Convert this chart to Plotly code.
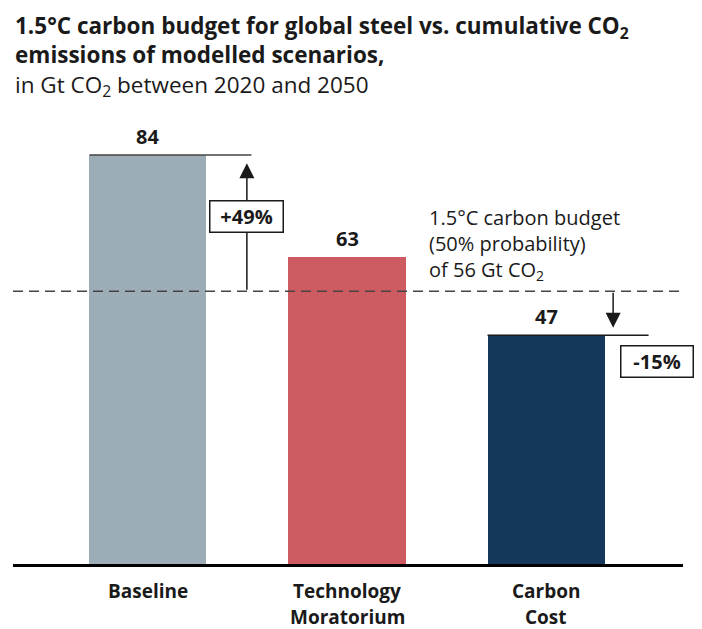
import plotly.graph_objects as go

# data
scenarios = ["Baseline", "Technology<br>Moratorium", "Carbon<br>Cost"]
emissions = [84, 63, 47]
bar_colors = ["#9DADB8", "#CD5B61", "#15375C"]
budget = 56
budget_lines = ["1.5°C carbon budget", "(50% probability)", "of 56 Gt CO<sub>2</sub>"]
change_labels = ["+49%", "-15%"]
title_lines = [
    "<b>1.5°C carbon budget for global steel vs. cumulative CO<sub>2</sub></b>",
    "<b>emissions of modelled scenarios,</b>",
    "in Gt CO<sub>2</sub> between 2020 and 2050",
]

FONT = "Open Sans"
INK = "#1a1a1a"

# page body adds 8px around the plot div, so work in reference pixels and shift back
OFF = 8
W, H = 702 - OFF, 629 - OFF
L, R, T, B = 13 - OFF, 19, 100 - OFF, 65
PW, PH = W - L - R, H - T - B


def px_x(px):
    return (px - OFF - L) / PW


def px_y(py):
    return (H - B - (py - OFF)) / PH


x_pos = list(range(len(scenarios)))
half_w = 0.294

fig = go.Figure()
fig.add_trace(go.Bar(
    x=x_pos,
    y=emissions,
    width=half_w * 2,
    marker=dict(color=bar_colors, line=dict(width=0)),
    hoverinfo="skip",
))

# value labels above the bars
for x, v in zip(x_pos, emissions):
    fig.add_annotation(x=x, y=v, text=f"<b>{v}</b>", showarrow=False, yanchor="middle",
                       yshift=19, font=dict(size=20, color=INK, family=FONT))

# budget line
fig.add_shape(type="line", xref="paper", yref="y", x0=0, x1=px_x(680), y0=budget, y1=budget,
              line=dict(color="#444444", width=1.5, dash="10px,6px"))

# reference lines at the top of baseline and carbon cost bars
fig.add_shape(type="line", x0=x_pos[0] - half_w, x1=0.52, y0=emissions[0], y1=emissions[0],
              line=dict(color="#444444", width=1.5))
fig.add_shape(type="line", x0=x_pos[2] - half_w, x1=2.515, y0=emissions[2], y1=emissions[2],
              line=dict(color=INK, width=1.5))

# arrows from budget to the bar tops
fig.add_annotation(x=0.497, y=emissions[0] - 1.7, ax=0.497, ay=budget, axref="x", ayref="y",
                   showarrow=True, arrowhead=2, arrowsize=2, arrowwidth=1.5, arrowcolor=INK, text="")
fig.add_annotation(x=2.337, y=emissions[2] + 1.5, ax=2.337, ay=budget, axref="x", ayref="y",
                   showarrow=True, arrowhead=2, arrowsize=2, arrowwidth=1.5, arrowcolor=INK, text="")

# change boxes
fig.add_annotation(x=0.497, y=71.3, text=f"<b>{change_labels[0]}</b>", showarrow=False,
                   width=70, height=28, bgcolor="white", bordercolor=INK, borderwidth=1.5, borderpad=1,
                   font=dict(size=20, color=INK, family=FONT))
fig.add_annotation(x=2.555, y=41.5, text=f"<b>{change_labels[1]}</b>", showarrow=False,
                   width=69, height=28, bgcolor="white", bordercolor=INK, borderwidth=1.5, borderpad=1,
                   font=dict(size=20, color=INK, family=FONT))

# budget note
for i, line in enumerate(budget_lines):
    fig.add_annotation(xref="paper", yref="paper", x=px_x(427), y=px_y(217 + i * 26.5),
                       xanchor="left", yanchor="middle", text=line, showarrow=False,
                       font=dict(size=20, color=INK, family=FONT))

# category labels under the axis
for x, label in zip(x_pos, scenarios):
    for j, part in enumerate(label.split("<br>")):
        fig.add_annotation(x=x, xref="x", yref="paper", y=px_y(591 + j * 26), yanchor="middle",
                           text=f"<b>{part}</b>", showarrow=False,
                           font=dict(size=19, color=INK, family=FONT))

# title block
fig.add_annotation(xref="paper", yref="paper", x=px_x(13), y=px_y(OFF),
                   xanchor="left", yanchor="top", align="left", text="<br>".join(title_lines),
                   showarrow=False, font=dict(size=22.5, color=INK, family=FONT))

fig.update_layout(
    width=W,
    height=H,
    margin=dict(l=L, r=R, t=T, b=B),
    paper_bgcolor="white",
    plot_bgcolor="white",
    showlegend=False,
    bargap=0,
    font=dict(family=FONT, color=INK),
    xaxis=dict(
        range=[-0.678, 2.688],
        tickvals=x_pos,
        showticklabels=False,
        showline=True, linecolor="black", linewidth=3,
        showgrid=False, zeroline=False, ticks="",
        fixedrange=True,
    ),
    yaxis=dict(range=[0, 95.3], visible=False, fixedrange=True),
)

fig.write_html("out.html")
